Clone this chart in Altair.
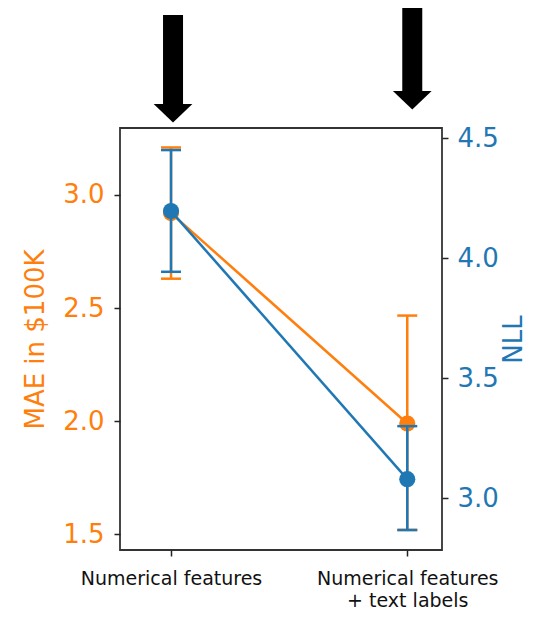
import json
import altair as alt
import pandas as pd

# ---- data ----
x_pos = [0, 1]
label_lines = [["Numerical features"], ["Numerical features", "+ text labels"]]
mae = [2.92, 1.99]
mae_lo = [2.63, 1.52]
mae_hi = [3.21, 2.467]
nll = [4.197, 3.08]
nll_lo = [3.944, 2.868]
nll_hi = [4.451, 3.301]

ORANGE = "#ff7f0e"
BLUE = "#1f77b4"

df = pd.DataFrame({
    "x": x_pos,
    "mae": mae, "mae_lo": mae_lo, "mae_hi": mae_hi,
    "nll": nll, "nll_lo": nll_lo, "nll_hi": nll_hi,
})

x_scale = alt.Scale(domain=[-0.216, 1.147], nice=False, zero=False)
x_enc = alt.X(
    "x:Q", scale=x_scale,
    axis=alt.Axis(
        values=x_pos, title=None, grid=False, domain=False,
        labelExpr=json.dumps(label_lines) + "[datum.value]",
        labelFont="DejaVu Sans", labelFontSize=19, labelColor="#111",
        labelLineHeight=22, labelPadding=13, labelBaseline="top",
        labelLimit=400, labelOverlap=False,
        tickSize=6, tickColor="#222", tickWidth=1.5,
    ),
)

base = alt.Chart(df)

mae_scale = alt.Scale(domain=[1.431, 3.296], nice=False, zero=False)
nll_scale = alt.Scale(domain=[2.785, 4.543], nice=False, zero=False)

mae_axis = alt.Axis(
    orient="left", values=[1.5, 2.0, 2.5, 3.0], format=".1f", grid=False,
    domain=False, tickSize=6, tickColor="#222", tickWidth=1.5,
    labelColor=ORANGE, labelFont="DejaVu Sans", labelFontSize=26, labelPadding=10,
    title="MAE in $100K", titleColor=ORANGE, titleFont="DejaVu Sans",
    titleFontSize=26, titleFontWeight="normal", titlePadding=14,
)
nll_axis = alt.Axis(
    orient="right", values=[3.0, 3.5, 4.0, 4.5], format=".1f", grid=False,
    domain=False, tickSize=6, tickColor="#222", tickWidth=1.5,
    labelColor=BLUE, labelFont="DejaVu Sans", labelFontSize=26, labelPadding=9,
    title="NLL", titleColor=BLUE, titleFont="DejaVu Sans",
    titleFontSize=26, titleFontWeight="normal", titlePadding=28, titleAngle=270,
)


def series(field, scale, axis, color):
    y = alt.Y(f"{field}:Q", scale=scale, axis=axis)
    line = base.mark_line(color=color, strokeWidth=2.5).encode(x=x_enc, y=y)
    err = base.mark_rule(color=color, strokeWidth=2.5).encode(
        x=x_enc, y=alt.Y(f"{field}_lo:Q", scale=scale, axis=axis), y2=f"{field}_hi:Q")
    cap_lo = base.mark_tick(color=color, orient="horizontal", size=20, thickness=2.5,
                            opacity=1).encode(
        x=x_enc, y=alt.Y(f"{field}_lo:Q", scale=scale, axis=axis))
    cap_hi = base.mark_tick(color=color, orient="horizontal", size=20, thickness=2.5,
                            opacity=1).encode(
        x=x_enc, y=alt.Y(f"{field}_hi:Q", scale=scale, axis=axis))
    pts = base.mark_circle(color=color, size=260, opacity=1).encode(x=x_enc, y=y)
    return alt.layer(line, err, cap_lo, cap_hi, pts)


orange = series("mae", mae_scale, mae_axis, ORANGE)
blue = series("nll", nll_scale, nll_axis, BLUE)

# ---- annotation arrows above the plot (pixel offsets relative to plot top) ----
arrow_x = [0, 1]
arrow_dx = [2, 5]
arrow_top = [-113, -128]
arrow_base = [-24, -37]

head_path = "M-1,0 L1,0 L0,0.95 Z"
arrow_layers = []
for i in range(2):
    a = alt.Chart(pd.DataFrame({"x": [arrow_x[i]]}))
    shaft = a.mark_rule(color="black", strokeWidth=20, xOffset=arrow_dx[i]).encode(
        x=alt.X("x:Q", scale=x_scale),
        y=alt.value(arrow_top[i]), y2=alt.value(arrow_base[i] + 1))
    head = a.mark_point(shape=head_path, filled=True, color="black", opacity=1,
                        size=1500, xOffset=arrow_dx[i]).encode(
        x=alt.X("x:Q", scale=x_scale), y=alt.value(arrow_base[i]))
    arrow_layers += [shaft, head]

chart = alt.layer(orange, blue, *arrow_layers).resolve_scale(
    y="independent"
).properties(
    width=322, height=422,
    autosize=alt.AutoSizeParams(type="none"),
    padding={"left": 112, "top": 120, "right": 86, "bottom": 60},
).configure(
    background="white",
    view=alt.ViewConfig(stroke="#333", strokeWidth=1.8),
)

chart.save("out.html", embed_options={"renderer": "svg", "actions": False})
